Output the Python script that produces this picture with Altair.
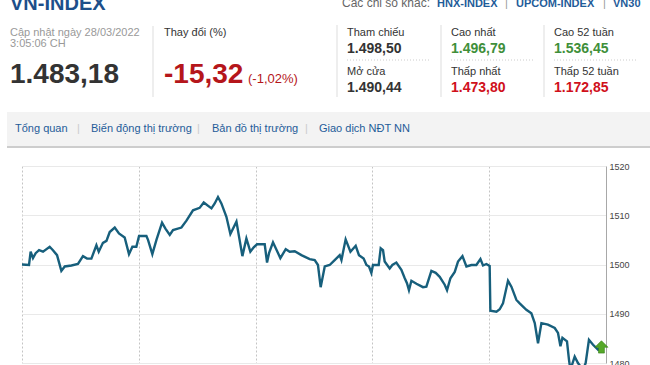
import altair as alt
import pandas as pd

# ---- intraday series over 5 sessions (x = session index + fraction of the session)
t = [0.000, 0.060, 0.074, 0.094, 0.117, 0.146, 0.180, 0.237, 0.265, 0.300, 0.337, 0.366, 0.423, 0.479,
     0.522, 0.557, 0.594, 0.637, 0.657, 0.693, 0.723, 0.751, 0.794, 0.830, 0.879, 0.916, 0.945, 0.979,
     1.002, 1.065, 1.079, 1.116, 1.151, 1.199, 1.228, 1.265, 1.293, 1.365, 1.408, 1.464, 1.521, 1.556,
     1.622, 1.650, 1.678, 1.707, 1.750, 1.784, 1.836, 1.887, 1.921, 1.955, 1.984,
     2.012, 2.078, 2.098, 2.115, 2.149, 2.212, 2.258, 2.292, 2.335, 2.392, 2.463, 2.506, 2.534, 2.557,
     2.592, 2.634, 2.677, 2.720, 2.735, 2.771, 2.812, 2.857, 2.885, 2.925, 2.949, 2.971, 2.991,
     3.005, 3.054, 3.071, 3.091, 3.105, 3.148, 3.171, 3.205, 3.248, 3.277, 3.296, 3.313, 3.334, 3.377,
     3.433, 3.462, 3.505, 3.542, 3.576, 3.619, 3.639, 3.668, 3.705, 3.733, 3.771, 3.805, 3.848, 3.890,
     3.925, 3.947, 3.976, 4.004,
     4.010, 4.062, 4.090, 4.118, 4.161, 4.190, 4.233, 4.261, 4.318, 4.361, 4.390, 4.418, 4.447, 4.503,
     4.561, 4.589, 4.610, 4.627, 4.666, 4.683, 4.695, 4.732, 4.760, 4.803, 4.826, 4.854, 4.889, 4.932,
     4.961]
v = [1500.0, 1499.9, 1502.6, 1501.3, 1502.3, 1502.9, 1502.6, 1503.6, 1502.9, 1501.9, 1498.7, 1499.6, 1499.8, 1500.1,
     1501.7, 1501.2, 1501.2, 1503.9, 1502.6, 1504.4, 1504.8, 1506.6, 1507.5, 1506.3, 1505.5, 1502.1, 1503.6, 1503.6,
     1505.8, 1505.8, 1505.0, 1502.1, 1505.0, 1508.5, 1507.3, 1506.0, 1507.0, 1507.5, 1508.9, 1511.0, 1511.5, 1512.6,
     1511.4, 1512.4, 1513.7, 1512.4, 1509.7, 1506.2, 1508.7, 1501.7, 1505.3, 1502.6, 1503.5,
     1504.1, 1504.1, 1500.4, 1502.3, 1504.5, 1501.3, 1503.1, 1502.6, 1502.7, 1501.9, 1501.1, 1500.9, 1499.9, 1495.4,
     1499.6, 1499.9, 1500.9, 1501.9, 1500.9, 1505.1, 1502.6, 1503.8, 1501.9, 1501.2, 1499.9, 1499.6, 1498.3,
     1499.9, 1499.9, 1503.3, 1502.9, 1500.6, 1499.2, 1499.9, 1500.4, 1498.9, 1497.2, 1496.2, 1494.8, 1496.7, 1496.1,
     1495.4, 1495.5, 1498.7, 1498.3, 1497.5, 1495.9, 1494.8, 1497.2, 1498.5, 1500.6, 1501.7, 1499.6, 1499.9, 1499.9,
     1501.1, 1499.8, 1500.1, 1499.7,
     1490.6, 1490.4, 1490.9, 1492.1, 1496.7, 1495.5, 1492.8, 1492.1, 1490.8, 1490.1, 1488.1, 1484.0, 1488.1, 1487.8,
     1487.1, 1486.1, 1483.4, 1485.1, 1484.4, 1480.7, 1478.6, 1481.3, 1480.0, 1478.6, 1480.0, 1484.7, 1483.7, 1482.7,
     1483.2]

y_ticks = [1480, 1490, 1500, 1510, 1520]
session_starts = [0, 1, 2, 3, 4]

# ---- header texts
title = "VN-INDEX"
other_label = "Các chỉ số khác:"
other_links = ["HNX-INDEX", "UPCOM-INDEX", "VN30"]
update_text = ["Cập nhật ngày 28/03/2022", "3:05:06 CH"]
index_value = "1.483,18"
change_label = "Thay đổi (%)"
change_value = "-15,32"
change_pct = "(-1,02%)"
stat_labels = [["Tham chiếu", "Mở cửa"], ["Cao nhất", "Thấp nhất"], ["Cao 52 tuần", "Thấp 52 tuần"]]
stat_values = [["1.498,50", "1.490,44"], ["1.496,79", "1.473,80"], ["1.536,45", "1.172,85"]]
stat_colors = [["#333333", "#333333"], ["#3f8f3a", "#d0101b"], ["#3f8f3a", "#d0101b"]]
tabs = ["Tổng quan", "Biến động thị trường", "Bản đồ thị trường", "Giao dịch NĐT NN"]

FONT = "Arial"
OX, OY = 22, 166  # plot-area origin inside the 650x365 page

one = pd.DataFrame({"k": [0]})
df = pd.DataFrame({"t": t, "v": v})
last = df.tail(1)


def txt(s, x, y, size, color, weight="normal"):
    return alt.Chart(one).mark_text(
        align="left", baseline="alphabetic", fontSize=size, color=color,
        fontWeight=weight, font=FONT
    ).encode(x=alt.value(x - OX), y=alt.value(y - OY), text=alt.value(s))


def vrule(x, y1, y2, color, dash=None, width=1):
    kw = dict(color=color, strokeWidth=width)
    if dash:
        kw["strokeDash"] = dash
    return alt.Chart(one).mark_rule(**kw).encode(
        x=alt.value(x - OX), y=alt.value(y1 - OY), y2=alt.value(y2 - OY))


def hrule(x1, x2, y, color, dash=None, width=1):
    kw = dict(color=color, strokeWidth=width)
    if dash:
        kw["strokeDash"] = dash
    return alt.Chart(one).mark_rule(**kw).encode(
        x=alt.value(x1 - OX), x2=alt.value(x2 - OX), y=alt.value(y - OY))


def rect(x1, x2, y1, y2, color):
    return alt.Chart(one).mark_rect(color=color).encode(
        x=alt.value(x1 - OX), x2=alt.value(x2 - OX), y=alt.value(y1 - OY), y2=alt.value(y2 - OY))


line = alt.Chart(df).mark_line(color="#175f7c", strokeWidth=2.4).encode(
    x=alt.X("t:Q", scale=alt.Scale(domain=[0, 5], nice=False, zero=False),
            axis=alt.Axis(values=session_starts, grid=True, gridDash=[2, 2], gridColor="#c4c4c4",
                          labels=False, ticks=False, domain=False, title=None)),
    y=alt.Y("v:Q", scale=alt.Scale(domain=[1480, 1520], nice=False, zero=False),
            axis=alt.Axis(orient="right", values=y_ticks, format="d", gridColor="#e9e9e9", labelFontSize=9,
                          labelColor="#444444", labelFont=FONT, ticks=False, labelPadding=3,
                          domainColor="#a8a8a8", title=None)),
)

arrow = alt.Chart(last).mark_point(
    shape="M0,-1L1,0L0.45,0L0.45,0.9L-0.45,0.9L-0.45,0L-1,0Z",
    filled=True, color="#56a829", stroke="#2f7a16", strokeWidth=0.6, opacity=1, size=170
).encode(x="t:Q", y="v:Q")

layers = [line, arrow]

# header
layers.append(txt(title, 10, 10, 20, "#1d4f8a", "bold"))
layers.append(txt(other_label, 342, 7, 12, "#666666"))
link_x = [437, 516, 613]
for s, x in zip(other_links, link_x):
    layers.append(txt(s, x, 7, 11, "#1f5c99", "bold"))
for x in [505, 603]:
    layers.append(txt("|", x, 7, 11, "#999999"))

layers.append(txt(update_text[0], 10, 36, 11, "#999999"))
layers.append(txt(update_text[1], 10, 47, 11, "#999999"))
layers.append(txt(index_value, 10, 83, 28, "#333333", "bold"))
layers.append(vrule(153, 26, 97, "#dddddd"))
layers.append(txt(change_label, 164, 36, 11, "#333333"))
layers.append(txt(change_value, 164, 83, 28, "#b5161b", "bold"))
layers.append(txt(change_pct, 248, 83, 13, "#b5161b"))

col_x = [347, 451, 554]
for i, cx in enumerate(col_x):
    layers.append(vrule(cx - 10, 25, 97, "#dddddd"))
    layers.append(txt(stat_labels[i][0], cx, 36, 11, "#333333"))
    layers.append(txt(stat_values[i][0], cx, 53, 14, stat_colors[i][0], "bold"))
    layers.append(hrule(cx, cx + 84, 60, "#cccccc", dash=[1, 2]))
    layers.append(txt(stat_labels[i][1], cx, 75, 11, "#333333"))
    layers.append(txt(stat_values[i][1], cx, 92, 14, stat_colors[i][1], "bold"))

# tab bar
layers.append(rect(7, 650, 112, 146, "#f3f3f3"))
layers.append(rect(7, 650, 146, 148, "#cdcdcd"))
tab_x = [15, 91, 212, 319]
for s, x in zip(tabs, tab_x):
    layers.append(txt(s, x, 132, 11, "#1f5c99"))
for x in [77, 197, 305]:
    layers.append(txt("|", x, 132, 11, "#cccccc"))

chart = alt.layer(*layers).properties(
    width=584, height=197,
    padding={"left": OX, "top": OY, "right": 44, "bottom": 2},
    autosize="none",
    background="white",
).configure_view(stroke=None)

chart.save("out.html", embed_options={"renderer": "svg", "actions": False})
